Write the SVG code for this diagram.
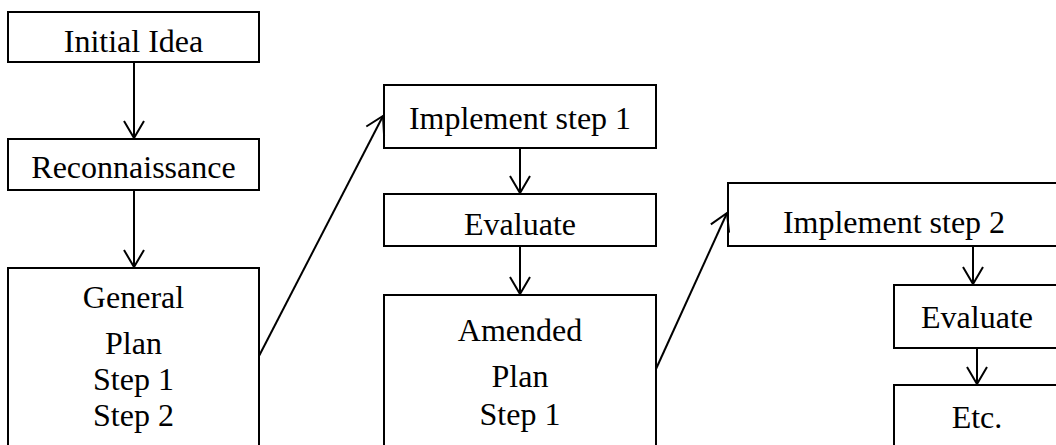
<svg xmlns="http://www.w3.org/2000/svg" width="1056" height="445" viewBox="0 0 1056 445">
<style>
.box{fill:#fff;stroke:#000;stroke-width:2}
.lbl{font-family:"Liberation Serif","Times New Roman",serif;font-size:32px;fill:#000;text-anchor:middle}
.con{fill:none;stroke:#000;stroke-width:2;marker-end:url(#arr)}
</style>
<defs>
<marker id="arr" viewBox="-19 -12 22 24" refX="0" refY="0" markerWidth="22" markerHeight="24" markerUnits="userSpaceOnUse" orient="auto" overflow="visible">
<path d="M-17,-10 L0,0 L-17,10" fill="none" stroke="#000" stroke-width="2"/>
</marker>
</defs>
<rect width="1056" height="445" fill="#fff"/>
<g id="initial-idea"><rect class="box" x="8" y="12" width="251" height="50"/><text class="lbl" x="133.5" y="52">Initial Idea</text></g>
<g id="reconnaissance"><rect class="box" x="8" y="139" width="251" height="51"/><text class="lbl" x="133.5" y="178">Reconnaissance</text></g>
<g id="general-plan"><rect class="box" x="8" y="268" width="251" height="200"/>
<text class="lbl" x="133.5" y="308">General</text><text class="lbl" x="133.5" y="354">Plan</text><text class="lbl" x="133.5" y="390">Step 1</text><text class="lbl" x="133.5" y="426">Step 2</text></g>
<g id="implement-1"><rect class="box" x="384" y="85" width="272" height="63"/><text class="lbl" x="520" y="129">Implement step 1</text></g>
<g id="evaluate-1"><rect class="box" x="384" y="194" width="272" height="52"/><text class="lbl" x="520" y="235">Evaluate</text></g>
<g id="amended-plan"><rect class="box" x="384" y="295" width="272" height="200"/>
<text class="lbl" x="520" y="341">Amended</text><text class="lbl" x="520" y="387">Plan</text><text class="lbl" x="520" y="425">Step 1</text></g>
<g id="implement-2"><rect class="box" x="728" y="183" width="332" height="63"/><text class="lbl" x="894" y="233">Implement step 2</text></g>
<g id="evaluate-2"><rect class="box" x="894" y="285" width="166" height="63"/><text class="lbl" x="977" y="328">Evaluate</text></g>
<g id="etc"><rect class="box" x="894" y="385" width="166" height="100"/><text class="lbl" x="977" y="428">Etc.</text></g>
<g id="connectors">
<path class="con" d="M134,62 L134,138"/>
<path class="con" d="M134,190 L134,267"/>
<path class="con" d="M259,356 L383,116"/>
<path class="con" d="M520,148 L520,193"/>
<path class="con" d="M520,246 L520,294"/>
<path class="con" d="M656,369 L727,213"/>
<path class="con" d="M973,246 L973,284"/>
<path class="con" d="M977,348 L977,384"/>
</g>
</svg>
